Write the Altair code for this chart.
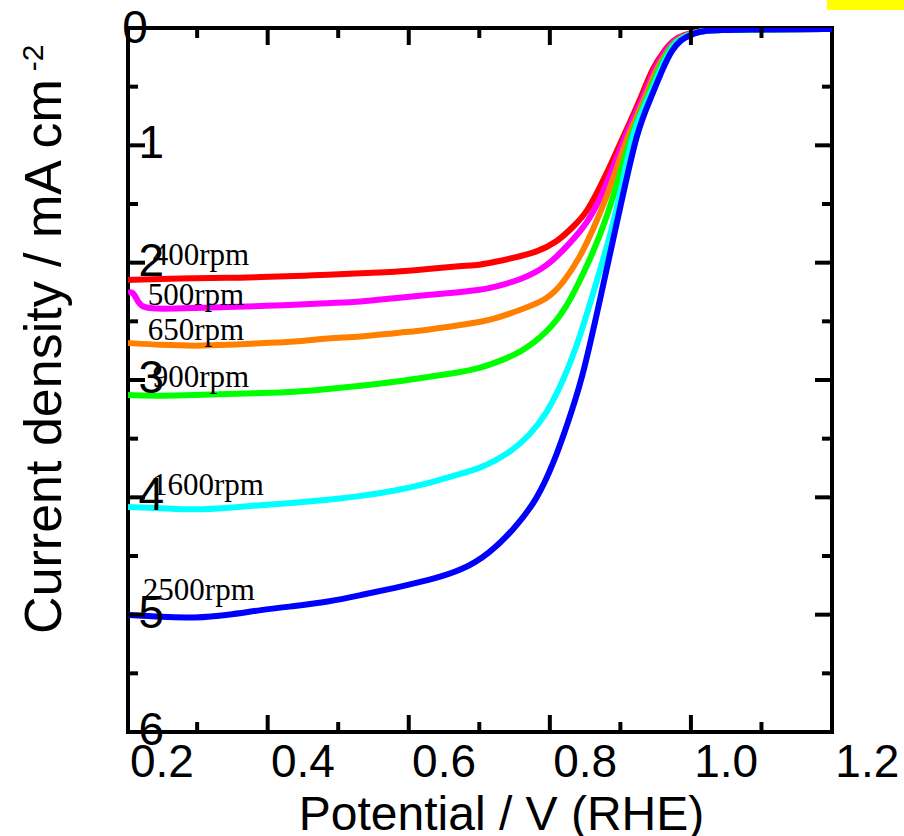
import altair as alt
import pandas as pd

# ---------------- data ----------------
series_names = ["400rpm", "500rpm", "650rpm", "900rpm", "1600rpm", "2500rpm"]
series_colors = ["#ff0000", "#ff00ff", "#ff8000", "#00ff00", "#00ffff", "#0000ff"]

v_400 = [0.152, 0.199, 0.247, 0.294, 0.340, 0.389, 0.435, 0.482, 0.530, 0.577, 0.624, 0.651, 0.672,
         0.698, 0.732, 0.760, 0.783, 0.803, 0.821, 0.835, 0.854, 0.878, 0.896, 0.913, 0.925, 0.939,
         0.963, 0.991, 1.034, 1.091, 1.150]
j_400 = [-2.148, -2.139, -2.131, -2.131, -2.122, -2.114, -2.105, -2.088, -2.080, -2.054, -2.028, -2.020,
         -1.994, -1.960, -1.909, -1.824, -1.696, -1.568, -1.355, -1.185, -0.929, -0.614, -0.332, -0.188,
         -0.102, -0.060, -0.026, -0.017, -0.013, -0.009, -0.009]

v_500 = [0.152, 0.159, 0.166, 0.173, 0.199, 0.247, 0.294, 0.340, 0.389, 0.435, 0.482, 0.530, 0.577,
         0.624, 0.651, 0.672, 0.708, 0.746, 0.779, 0.803, 0.821, 0.840, 0.860, 0.881, 0.899, 0.915,
         0.926, 0.942, 0.963, 0.991, 1.034, 1.091, 1.150]
j_500 = [-2.259, -2.242, -2.335, -2.386, -2.395, -2.386, -2.378, -2.369, -2.361, -2.344, -2.335, -2.301,
         -2.276, -2.250, -2.233, -2.207, -2.148, -2.037, -1.832, -1.662, -1.466, -1.185, -0.869, -0.614,
         -0.332, -0.188, -0.102, -0.060, -0.026, -0.017, -0.013, -0.009, -0.009]

v_650 = [0.152, 0.199, 0.247, 0.294, 0.340, 0.389, 0.435, 0.482, 0.530, 0.577, 0.624, 0.651, 0.672,
         0.708, 0.746, 0.769, 0.793, 0.811, 0.831, 0.850, 0.864, 0.884, 0.902, 0.918, 0.929, 0.943,
         0.963, 0.991, 1.034, 1.091, 1.150]
j_650 = [-2.685, -2.702, -2.710, -2.702, -2.685, -2.676, -2.642, -2.634, -2.599, -2.574, -2.531, -2.506,
         -2.480, -2.403, -2.318, -2.173, -1.952, -1.722, -1.440, -1.099, -0.869, -0.614, -0.332, -0.188,
         -0.102, -0.060, -0.026, -0.017, -0.013, -0.009, -0.009]

v_900 = [0.152, 0.199, 0.247, 0.294, 0.340, 0.389, 0.435, 0.482, 0.530, 0.577, 0.624, 0.651, 0.672,
         0.708, 0.746, 0.774, 0.793, 0.811, 0.831, 0.850, 0.867, 0.887, 0.905, 0.919, 0.930, 0.945,
         0.963, 0.991, 1.034, 1.091, 1.150]
j_900 = [-3.128, -3.136, -3.128, -3.119, -3.111, -3.102, -3.077, -3.051, -3.017, -2.975, -2.932, -2.898,
         -2.855, -2.770, -2.599, -2.378, -2.148, -1.918, -1.611, -1.236, -0.869, -0.614, -0.332, -0.188,
         -0.102, -0.060, -0.026, -0.017, -0.013, -0.009, -0.009]

v_1600 = [0.152, 0.199, 0.247, 0.294, 0.340, 0.389, 0.435, 0.482, 0.530, 0.580, 0.623, 0.651, 0.672,
          0.694, 0.722, 0.746, 0.769, 0.793, 0.817, 0.838, 0.854, 0.868, 0.889, 0.908, 0.921, 0.932,
          0.946, 0.963, 0.991, 1.034, 1.091, 1.150]
j_1600 = [-4.082, -4.091, -4.108, -4.091, -4.065, -4.048, -4.023, -3.989, -3.946, -3.878, -3.801, -3.750,
          -3.690, -3.614, -3.469, -3.281, -3.009, -2.634, -2.148, -1.722, -1.295, -0.869, -0.614, -0.332,
          -0.188, -0.102, -0.060, -0.026, -0.017, -0.013, -0.009, -0.009]

v_2500 = [0.152, 0.199, 0.247, 0.294, 0.340, 0.389, 0.435, 0.482, 0.530, 0.580, 0.627, 0.665, 0.698,
          0.732, 0.757, 0.772, 0.796, 0.821, 0.852, 0.874, 0.892, 0.911, 0.923, 0.935, 0.949, 0.963,
          0.991, 1.034, 1.091, 1.150]
j_2500 = [-5.003, -5.020, -5.029, -5.003, -4.960, -4.926, -4.892, -4.833, -4.773, -4.705, -4.619, -4.475,
          -4.279, -4.023, -3.682, -3.426, -3.000, -2.318, -1.466, -0.869, -0.614, -0.332, -0.188, -0.102,
          -0.060, -0.026, -0.017, -0.013, -0.009, -0.009]

# curve labels (anchor at the text's left/baseline, in data units)
label_text = ["400rpm", "500rpm", "650rpm", "900rpm", "1600rpm", "2500rpm"]
label_v = [0.187, 0.180, 0.180, 0.187, 0.186, 0.173]
label_j = [-2.020, -2.361, -2.659, -3.060, -3.980, -4.875]

# axis tick values / labels
x_label_values = [0.2, 0.4, 0.6, 0.8, 1.0, 1.2]
x_label_text = ["0.2", "0.4", "0.6", "0.8", "1.0", "1.2"]
x_major_ticks = [0.35, 0.55, 0.75, 0.95]
x_minor_ticks = [0.25, 0.45, 0.65, 0.85, 1.05]
y_label_values = [-1, -2, -3, -4, -5, -6]
y_label_text = ["1", "2", "3", "4", "5", "6"]
y_zero_value = [0]
y_zero_text = ["0"]
y_major_ticks = [-1, -2, -3, -4, -5]
y_minor_ticks = [-0.5, -1.5, -2.5, -3.5, -4.5, -5.5]

# ---------------- chart ----------------
W, H = 704, 704
xs = alt.Scale(domain=[0.152, 1.150], nice=False, zero=False)
ys = alt.Scale(domain=[-6, 0], nice=False, zero=False)
XT = "Potential / V (RHE)"
YT = "Current density / mA cm"

x_axis = alt.Axis(labels=False, ticks=False, domain=False, grid=False,
                  titleFont="Liberation Sans", titleFontSize=48, titleFontWeight="normal",
                  titleColor="black", titleX=373, titleY=97, titleBaseline="alphabetic",
                  titleAlign="center")
y_axis = alt.Axis(labels=False, ticks=False, domain=False, grid=False,
                  titleFont="Liberation Sans", titleFontSize=52, titleFontWeight="normal",
                  titleColor="black", titleX=-68, titleY=328, titleAngle=270,
                  titleBaseline="alphabetic", titleAlign="center")


def X(field):
    return alt.X(field, type="quantitative", scale=xs, axis=x_axis, title=XT)


def Y(field):
    return alt.Y(field, type="quantitative", scale=ys, axis=y_axis, title=YT)


series = [(v_400, j_400), (v_500, j_500), (v_650, j_650), (v_900, j_900), (v_1600, j_1600), (v_2500, j_2500)]
layers = []
for name, col, (vv, jj) in zip(series_names, series_colors, series):
    df = pd.DataFrame({"V": vv, "j": jj})
    layers.append(
        alt.Chart(df).mark_line(color=col, strokeWidth=6, interpolate="basis", clip=True)
        .encode(x=X("V"), y=Y("j"))
    )

# inward ticks
def xticks(vals, length, top):
    d = pd.DataFrame({"t": vals})
    if top:
        y0, y1 = 0, length
    else:
        y0, y1 = H, H - length
    return alt.Chart(d).mark_rule(color="black", strokeWidth=4).encode(
        x=X("t"), y=alt.value(y0), y2=alt.value(y1))


def yticks(vals, length, right):
    d = pd.DataFrame({"t": vals})
    if right:
        x0, x1 = W, W - length
    else:
        x0, x1 = 0, length
    return alt.Chart(d).mark_rule(color="black", strokeWidth=4).encode(
        y=Y("t"), x=alt.value(x0), x2=alt.value(x1))


layers += [
    xticks(x_major_ticks, 17, False), xticks(x_minor_ticks, 10, False),
    xticks(x_major_ticks, 17, True), xticks(x_minor_ticks, 10, True),
    yticks(y_major_ticks, 17, False), yticks(y_minor_ticks, 10, False),
    yticks(y_major_ticks, 17, True), yticks(y_minor_ticks, 10, True),
]

# curve labels
lab_df = pd.DataFrame({"V": label_v, "j": label_j, "t": label_text})
layers.append(
    alt.Chart(lab_df).mark_text(font="Liberation Serif", fontSize=31, align="left",
                                baseline="alphabetic", color="black")
    .encode(x=X("V"), y=Y("j"), text="t:N")
)

# x tick labels
xl_df = pd.DataFrame({"v": x_label_values, "t": x_label_text})
layers.append(
    alt.Chart(xl_df).mark_text(font="Liberation Sans", fontSize=46, align="center",
                               baseline="alphabetic", color="black")
    .encode(x=X("v"), y=alt.value(H + 45), text="t:N")
)

# y tick labels (drawn inside the frame, as in the original)
yl_df = pd.DataFrame({"v": y_label_values, "t": y_label_text})
layers.append(
    alt.Chart(yl_df).mark_text(font="Liberation Sans", fontSize=46, align="right",
                               baseline="alphabetic", dy=13, color="black")
    .encode(y=Y("v"), x=alt.value(36), text="t:N")
)
yz_df = pd.DataFrame({"v": y_zero_value, "t": y_zero_text})
layers.append(
    alt.Chart(yz_df).mark_text(font="Liberation Sans", fontSize=46, align="center",
                               baseline="alphabetic", dy=15, color="black")
    .encode(y=Y("v"), x=alt.value(7), text="t:N")
)

# superscript of the y title
sup_df = pd.DataFrame({"t": ["-2"]})
layers.append(
    alt.Chart(sup_df).mark_text(font="Liberation Sans", fontSize=30, align="center",
                                baseline="alphabetic", angle=270, color="black")
    .encode(x=alt.value(-85), y=alt.value(30), text="t:N")
)

# yellow patch at the top-right corner of the picture
patch_df = pd.DataFrame({"a": [0]})
layers.append(
    alt.Chart(patch_df).mark_rect(color="#ffff00")
    .encode(x=alt.value(699), x2=alt.value(776), y=alt.value(-28), y2=alt.value(-18))
)

chart = alt.layer(*layers).properties(
    width=W, height=H,
    autosize="none",
    padding={"left": 128, "top": 28, "right": 72, "bottom": 104},
    background="white",
).configure_view(stroke="black", strokeWidth=4)

chart.save("out.html", embed_options={"renderer": "svg", "actions": False})
